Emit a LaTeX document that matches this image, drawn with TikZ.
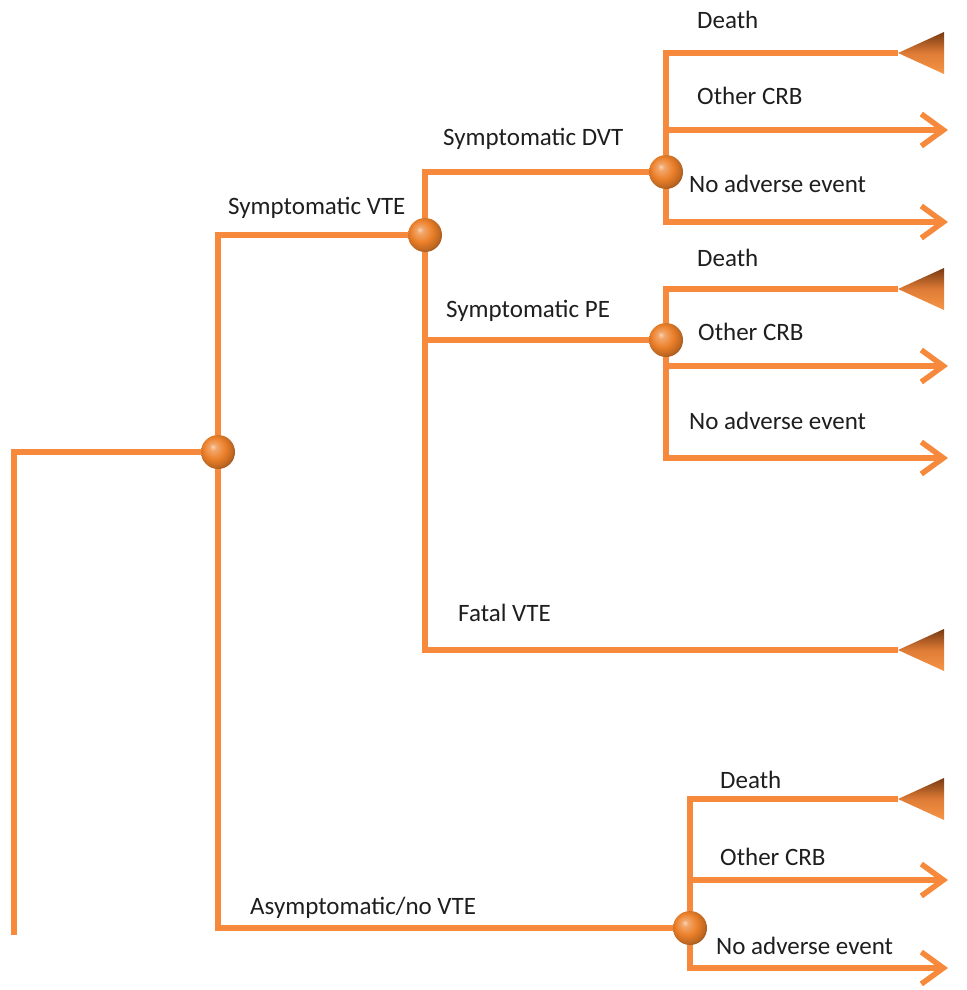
\documentclass[tikz,border=0pt]{standalone}
\usepackage{fontspec}
\setmainfont{Carlito}
\usetikzlibrary{arrows.meta,backgrounds}
\definecolor{branch}{RGB}{247,137,60}
\definecolor{ink}{RGB}{30,30,30}
\definecolor{ballorange}{RGB}{236,128,42}
\definecolor{tridark}{RGB}{120,58,18}
\definecolor{trilight}{RGB}{246,150,70}
% glossy orange sphere for the chance nodes
\pgfdeclareradialshading{orangeball}{\pgfpoint{-8bp}{8bp}}{%
  color(0bp)=(ballorange!35!white);
  color(5bp)=(ballorange!70!white);
  color(16bp)=(ballorange);
  color(26bp)=(ballorange!80!black);
  color(34bp)=(ballorange!45!black);
  color(50bp)=(ballorange!45!black)}
\begin{document}
\begin{tikzpicture}[x=1pt,y=-1pt,
  branchline/.style={draw=branch,line width=5.5pt},
  outcome/.style={branchline,-{Straight Barb[length=22pt,width=32pt]}},
  chance/.style={circle,minimum size=34pt,inner sep=0pt,shading=orangeball},
  lbl/.style={anchor=base west,inner sep=0pt,text=ink,font=\fontsize{25}{30}\selectfont},
  terminal/.pic={\shade[top color=tridark,bottom color=trilight,middle color=branch!90!black]
      (-46,0) -- (0,-21) -- (0,21) -- cycle;}]
\useasboundingbox (0,0) rectangle (966,990);

% chance nodes
\node[chance] (c0) at (218,452) {};
\node[chance] (cvte) at (425,235) {};
\node[chance] (cdvt) at (666,172) {};
\node[chance] (cpe) at (666,340) {};
\node[chance] (cno) at (690,928) {};

% start of the tree
\coordinate (root) at (14,935);

% terminal (death) tips and outcome arrow ends
\pic at (944,53) {terminal};   \coordinate (dvtdeath) at (898,53);
\pic at (944,289) {terminal};  \coordinate (pedeath) at (898,289);
\pic at (944,650) {terminal};  \coordinate (fatal) at (898,650);
\pic at (944,799) {terminal};  \coordinate (nodeath) at (898,799);
\coordinate (dvtcrb) at (948,130);
\coordinate (dvtnone) at (948,222);
\coordinate (pecrb) at (948,366);
\coordinate (penone) at (948,458);
\coordinate (nocrb) at (948,880);
\coordinate (nonone) at (948,968);

\begin{scope}[on background layer]
  \draw[branchline] (root) |- (c0);
  \draw[branchline] (c0) |- (cvte);
  \draw[branchline] (c0) |- (cno);
  \draw[branchline] (cvte) |- (cdvt);
  \draw[branchline] (cvte) |- (cpe);
  \draw[branchline] (cvte) |- (fatal);
  \draw[branchline] (cdvt) |- (dvtdeath);
  \draw[outcome] (cdvt) |- (dvtcrb);
  \draw[outcome] (cdvt) |- (dvtnone);
  \draw[branchline] (cpe) |- (pedeath);
  \draw[outcome] (cpe) |- (pecrb);
  \draw[outcome] (cpe) |- (penone);
  \draw[branchline] (cno) |- (nodeath);
  \draw[outcome] (cno) |- (nocrb);
  \draw[outcome] (cno) |- (nonone);
\end{scope}

% branch labels
\node[lbl] (lvte) at (228,214) {Symptomatic VTE};
\node[lbl] (ldvt) at (443,145) {Symptomatic DVT};
\node[lbl] (lpe) at (446,317) {Symptomatic PE};
\node[lbl] (lfatal) at (458,621) {Fatal VTE};
\node[lbl] (lasym) at (250,914) {Asymptomatic/no VTE};
\node[lbl] (ld1) at (697,29) {Death};
\node[lbl] (lc1) at (697,104) {Other CRB};
\node[lbl] (ln1) at (689,192) {No adverse event};
\node[lbl] (ld2) at (697,266) {Death};
\node[lbl] (lc2) at (698,340) {Other CRB};
\node[lbl] (ln2) at (689,429) {No adverse event};
\node[lbl] (ld3) at (720,788) {Death};
\node[lbl] (lc3) at (720,865) {Other CRB};
\node[lbl] (ln3) at (716,954) {No adverse event};
\end{tikzpicture}
\end{document}
